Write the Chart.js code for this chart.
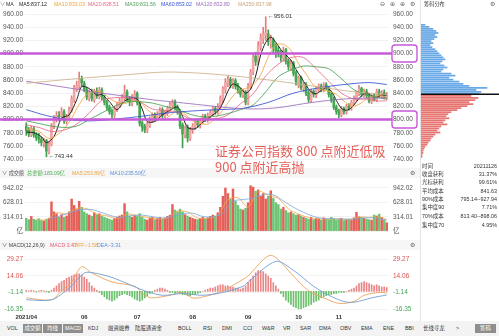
<!DOCTYPE html>
<html>
<head>
<meta charset="utf-8">
<script src="https://cdn.jsdelivr.net/npm/chart.js@4.4.0/dist/chart.umd.min.js"></script>
<style>
body{margin:0;background:#fff}
#wrap{position:relative;width:499px;height:336px;overflow:hidden;background:#fff;font-family:"Liberation Sans","Noto Sans CJK SC",sans-serif}
canvas{position:absolute}
.t{position:absolute;white-space:nowrap;font-size:5.2px;line-height:8px;color:#333}
.ic{position:absolute;font-family:"DejaVu Sans";font-size:6px;line-height:8px;color:#666}
.band{position:absolute;left:0;width:420px;height:10px;background:#f6f6f6}
.tab{position:absolute;top:324px;font-size:5.4px;line-height:9px;color:#333;white-space:nowrap;font-family:"Liberation Sans","Noto Sans CJK SC"}
.hl{background:#8e8e8e;color:#fff;text-align:center}
.row{position:absolute;left:422px;width:75px;font-size:5.4px;line-height:8px;color:#333;font-family:"Liberation Sans","Noto Sans CJK SC"}
.row b{font-weight:normal;float:right}
#note{position:absolute;left:215px;top:143px;font-family:"Noto Sans CJK SC";font-size:13px;line-height:16px;color:#e5605a;white-space:nowrap;z-index:5}
</style>
</head>
<body>
<div id="wrap">

<div class="band" style="top:168px"></div>
<div class="band" style="top:240px"></div>

<canvas id="main" width="420" height="168" style="left:0;top:0"></canvas>
<canvas id="chip" width="79" height="168" style="left:420px;top:0"></canvas>
<canvas id="vol" width="420" height="64" style="left:0;top:176px"></canvas>
<canvas id="macd" width="420" height="76" style="left:0;top:246px"></canvas>

<div style="position:absolute;left:420px;top:0;width:1px;height:321px;background:#e4e4e4"></div>

<!-- price header -->
<span class="t" style="left:0;top:0;color:#777">∨</span>
<span class="t" style="left:6px;top:0">MA</span>
<span class="t" style="left:19px;top:0;color:#222">MA5:837.12</span>
<span class="t" style="left:54px;top:0;color:#eea53f">MA10:833.03</span>
<span class="t" style="left:88px;top:0;color:#e46a86">MA20:828.51</span>
<span class="t" style="left:125px;top:0;color:#4a9e52">MA30:831.56</span>
<span class="t" style="left:161px;top:0;color:#3452d1">MA60:853.02</span>
<span class="t" style="left:196px;top:0;color:#9a6cbc">MA120:832.80</span>
<span class="t" style="left:238px;top:0;color:#c9a57a">MA250:837.98</span>
<span class="ic" style="left:380px;top:0">⊖</span>
<span class="ic" style="left:390px;top:0">⊕</span>
<span class="ic" style="left:400px;top:0">⊕</span>
<span class="ic" style="left:410px;top:0">⚙</span>
<span class="t" style="left:424px;top:0">筹码分布</span>
<span class="ic" style="left:490px;top:0">⚙</span>

<!-- volume header -->
<span class="t" style="left:2px;top:169px;color:#555">∨ 成交额</span>
<span class="t" style="left:27px;top:169px;color:#4caf50">总金额:183.09亿</span>
<span class="t" style="left:72px;top:169px;color:#eea53f">MA5:253.89亿</span>
<span class="t" style="left:110px;top:169px;color:#5a8fd8">MA10:235.50亿</span>
<span class="ic" style="left:410px;top:169px">⚙</span>

<!-- macd header -->
<span class="t" style="left:2px;top:241px;color:#444">∨ MACD(12,26,9)</span>
<span class="t" style="left:50px;top:241px;color:#e0607a">MACD:3.47</span>
<span class="t" style="left:73px;top:241px;color:#eea53f">DIFF:-1.58</span>
<span class="t" style="left:97px;top:241px;color:#5a8fd8">DEA:-3.31</span>
<span class="ic" style="left:410px;top:241px">⚙</span>

<!-- chip info -->
<div class="row" style="top:162px">时间<b>20211126</b></div>
<div class="row" style="top:170px">收盘获利<b>31.37%</b></div>
<div class="row" style="top:178px">光标获利<b>99.61%</b></div>
<div class="row" style="top:187px">平均成本<b>841.63</b></div>
<div class="row" style="top:195px">90%成本<b>795.14--927.94</b></div>
<div class="row" style="top:203px">集中度90<b>7.71%</b></div>
<div class="row" style="top:212px">70%成本<b>813.40--898.06</b></div>
<div class="row" style="top:221px">集中度70<b>4.95%</b></div>

<!-- tab bar -->
<div style="position:absolute;left:0;top:321px;width:499px;height:15px;background:#f3f3f3"></div>
<span class="tab" style="left:7px">VOL</span>
<span class="tab hl" style="left:23px;width:19px">成交额</span>
<span class="tab hl" style="left:43px;width:19px">均线</span>
<span class="tab hl" style="left:63px;width:20px">MACD</span>
<span class="tab" style="left:88px">KDJ</span>
<span class="tab" style="left:108px">融资融券</span>
<span class="tab" style="left:135px">陆股通资金</span>
<span class="tab" style="left:178px">BOLL</span>
<span class="tab" style="left:203px">RSI</span>
<span class="tab" style="left:222px">DMI</span>
<span class="tab" style="left:243px">CCI</span>
<span class="tab" style="left:262px">W&amp;R</span>
<span class="tab" style="left:283px">VR</span>
<span class="tab" style="left:300px">SAR</span>
<span class="tab" style="left:319px">DMA</span>
<span class="tab" style="left:340px">OBV</span>
<span class="tab" style="left:361px">EMA</span>
<span class="tab" style="left:383px">ENE</span>
<span class="tab" style="left:405px">BBI</span>
<span class="tab" style="left:423px">长线寻龙</span>
<span class="tab" style="left:456px">&gt;</span>
<span class="tab hl" style="left:475px;width:21px">筹码</span>

<div id="note">证券公司指数 800 点附近低吸<br>900 点附近高抛</div>
</div>

<script>
/* =====================================================
DATA
===================================================== */

const monthStarts=[0,23,44,66,88,108,124]
const monthLabels=["2021/04","06","07","08","09","10","11"]

const opens=[
790,784,777,786,777,774,770,764,768,750,
762,790,800,806,805,812,797,803,814,830,
846,850,862,855,846,832,841,830,843,835,
845,834,826,819,813,806,815,821,827,832,
842,831,825,833,840,826,795,790,783,791,
799,807,801,807,815,805,809,815,821,827,
819,812,792,777,788,771,783,789,797,791,
797,805,799,805,809,817,811,819,830,845,
854,861,851,859,851,845,837,842,825,849,
872,896,886,910,922,928,930,915,921,912,
905,901,893,906,889,878,886,871,852,864,
847,853,841,829,843,837,845,851,845,853,
848,839,831,819,813,807,817,811,821,817,
825,831,839,847,837,843,837,827,836,829,
843,835,841,833]

const closes=[
783,778,786,776,772,770,765,768,752,762,
790,800,806,804,812,798,804,815,832,848,
852,860,856,846,834,840,832,842,836,844,
834,826,818,812,808,816,822,828,834,840,
830,826,834,838,826,794,788,784,792,800,
806,802,808,814,806,810,816,822,826,818,
812,790,778,786,772,784,790,796,792,798,
804,800,806,810,816,812,820,832,846,856,
860,852,858,850,844,838,842,826,850,872,
894,888,912,925,930,932,918,920,910,904,
900,894,904,888,880,884,870,858,862,848,
852,840,830,842,838,846,850,846,852,848,
838,830,818,812,808,816,812,820,818,826,
832,840,846,838,842,836,828,835,830,842,
836,840,834,838]

const highs=[
795,788,790,789,780,779,774,772,770,766,
794,806,812,812,818,815,808,819,836,852,
858,872,866,858,849,845,846,846,848,849,
848,837,829,822,816,820,826,832,838,852,
845,835,838,844,842,828,798,793,796,804,
810,810,812,818,818,814,820,826,830,830,
822,815,795,790,792,788,794,800,800,802,
808,808,810,814,820,820,824,836,850,862,
866,864,862,862,855,848,846,844,855,876,
900,902,918,930,940,956.01,936,928,924,915,
910,905,910,908,892,890,888,874,866,866,
856,856,844,846,845,850,854,854,856,856,
850,842,834,822,816,820,819,823,824,829,
836,843,852,849,846,846,840,838,839,846,
846,844,845,841]

const lows=[
776,774,774,773,768,764,760,758,743.44,748,
760,786,796,798,803,794,793,800,811,826,
842,846,850,842,830,828,828,826,832,831,
830,822,814,808,802,803,812,818,824,829,
827,821,821,829,822,790,782,780,780,788,
796,798,798,804,802,802,806,812,817,814,
808,786,757,772,766,768,779,785,788,787,
794,797,796,802,806,808,808,816,826,840,
850,848,847,846,840,834,833,822,822,846,
868,882,883,905,915,920,912,908,900,894,
895,888,889,884,875,874,866,852,848,845,
842,836,826,826,834,833,842,842,842,845,
834,826,815,808,803,804,808,808,814,814,
822,828,836,835,834,833,825,824,828,827,
833,832,831,830]

// moving averages as [day, value]
const ma5=[[0,781],[3,780],[6,774],[8,765],[11,774],[14,802],[17,807],[20,830],[22,850],[25,847],[28,837],[30,838],[33,827],[36,815],[39,828],[42,833],[44,831],[46,816],[48,797],[51,797],[54,807],[57,814],[60,819],[62,805],[64,788],[67,786],[70,796],[73,804],[76,813],[78,825],[80,843],[82,854],[85,848],[87,840],[89,846],[91,866],[93,898],[95,917],[97,925],[99,917],[101,906],[103,898],[105,890],[107,876],[109,864],[111,852],[113,842],[115,839],[117,844],[119,848],[121,843],[123,829],[125,817],[127,814],[129,818],[131,827],[133,836],[135,840],[137,836],[139,834],[141,837],[143,837.12]]
const ma10=[[0,786],[5,782],[9,771],[12,776],[15,786],[18,802],[21,823],[24,838],[27,842],[30,842],[33,832],[36,826],[39,824],[42,828],[45,827],[48,815],[51,806],[54,799],[57,806],[60,813],[63,808],[66,798],[69,794],[72,793],[75,802],[78,814],[81,831],[84,843],[87,847],[90,853],[93,868],[96,895],[99,913],[102,914],[105,905],[108,885],[111,869],[114,852],[117,845],[120,843],[123,838],[126,828],[129,820],[132,823],[135,831],[138,835],[141,836],[143,833.03]]
const ma20=[[0,792],[5,788],[10,782],[15,784],[20,793],[25,810],[30,829],[35,833],[40,833],[45,827],[50,816],[55,814],[60,811],[65,801],[70,801],[75,801],[80,807],[85,824],[90,839],[95,866],[100,884],[105,894],[110,894],[115,877],[120,858],[125,840],[130,831],[135,831],[140,828],[143,828.51]]
const ma30=[[0,798],[5,794],[10,790],[15,788],[20,790],[25,800],[30,810],[35,820],[40,827],[45,827],[50,825],[55,820],[60,815],[65,808],[70,804],[75,805],[80,809],[85,815],[90,822],[95,842],[100,865],[105,875],[110,881],[115,880],[120,877],[125,862],[130,845],[135,838],[140,833],[143,831.56]]
const ma60=[[0,815],[8,806],[16,800],[26,798],[36,801],[46,805],[56,810],[66,813],[76,815],[86,817],[96,826],[106,840],[116,848],[126,853],[136,856],[143,853.02]]
const ma120=[[0,858],[10,852],[20,846],[30,840],[40,835],[50,830],[60,826],[70,822],[80,818],[90,816],[100,818],[110,824],[120,829],[130,832],[143,832.8]]
const ma250=[[0,855],[20,862],[40,868],[55,872],[70,870],[85,865],[100,858],[115,850],[130,842],[143,837.98]]

const levels=[900,800]

// turnover, 亿
const volumes=[
280,250,320,260,240,270,230,220,260,280,
640,420,380,300,360,300,330,420,700,560,
470,650,520,420,380,350,320,400,360,380,
330,300,280,260,240,280,300,330,350,600,
420,330,300,340,320,380,300,260,240,280,
300,250,270,300,260,280,320,350,580,460,
420,480,420,360,330,300,280,260,250,280,
300,270,290,320,350,330,400,520,760,940,
820,700,920,650,560,480,460,500,620,990,
960,870,900,760,820,700,760,880,720,620,
580,480,520,450,400,420,380,350,360,330,
300,280,260,300,250,280,270,240,290,260,
250,300,270,240,260,280,230,250,260,240,
290,410,310,300,280,260,250,240,350,330,
370,300,240,183.09]
const volMa5=[[4,262],[8,244],[12,398],[16,378],[20,496],[24,488],[28,370],[32,334],[36,272],[40,370],[44,342],[48,300],[52,272],[56,282],[60,438],[64,418],[68,284],[72,282],[76,338],[80,688],[84,730],[88,524],[92,868],[96,788],[100,712],[104,486],[108,372],[112,296],[116,268],[120,262],[124,264],[128,254],[132,308],[136,300],[140,308],[143,253.89]]
const volMa10=[[9,263],[14,339],[18,415],[22,470],[26,470],[30,405],[34,330],[38,298],[42,340],[46,350],[50,315],[54,285],[58,320],[62,380],[66,390],[70,320],[74,310],[78,390],[82,650],[86,690],[90,720],[94,800],[98,790],[102,660],[106,520],[110,410],[114,320],[118,275],[122,270],[126,262],[130,262],[134,285],[138,290],[143,235.5]]
const volTicks=[0,314.01,628.01,942.02]

const diffLine=[[0,-6],[10,-7.7],[14,0.5],[18,8.6],[22,22.5],[26,16.8],[34,8.6],[43,4.6],[47,-3.6],[50,-6],[57,-3.6],[62,-1],[66,-6],[70,-5.2],[78,0.5],[86,11],[88,14],[94,29],[97,33],[100,29],[106,14],[112,0.5],[118,-6],[124,-11],[130,-9.3],[134,-3.6],[140,-1],[143,-1.58]]
const deaLine=[[0,-7.7],[10,-7.7],[17,3],[23,16.8],[27,16.8],[34,12.7],[41,6.2],[47,0.5],[54,-3.6],[62,-2],[70,-3.6],[78,-1],[86,4.6],[88,8.6],[99,27.4],[106,19.2],[114,4.6],[120,-3.6],[126,-9.3],[130,-10],[137,-6],[143,-3.31]]
const macdHist=[
1,0.5,1,0.5,-0.5,0.5,1,0.5,-0.5,-1,
1,3,5,7,9,10,12,13,14,15,16,16,15,13,11,8,5,3,
1,-1,-3,-5,-7,-8,-9,-8,-6,-4,-3,-2,-3,-4,-5,-7,-8,-9,-8,-6,-4,-2,-1,
1,2,3,3,2,1,
-1,-1,-2,-1,
-2,-3,-3,-4,
-4,-3,-3,-2,-1,0,
1,2,3,3,4,5,6,6,5,5,
4,4,3,3,2,3,
5,8,11,14,17,19,19,18,16,14,12,
8,5,2,
-2,-5,-8,-10,-12,-14,-15,-16,-16,-15,-14,-13,-12,-10,-9,-8,-6,-5,-4,-3,
-3,-2,-2,-1,-1,-1,0,1,
2,3,5,7,8,9,8,7,6,5,6,5,4,4,3.47]
const macdTicks=[29.27,14.06,-1.14,-16.35]

// chip distribution: price level and bar size
const chipPrices=[944,941,938,935,932,929,926,923,920,917,914,911,908,905,902,899,896,893,890,887,884,881,878,875,872,869,866,863,860,857,854,851,848,845,842,839,836,833,830,827,824,821,818,815,812,809,806,803,800,797,794,791,788,785,782,779,776,773,770,767,764,761,758,755,752,749]
const chipSizes=[4,8,12,15,17,14,16,13,10,12,9,11,14,16,18,20,22,24,21,19,23,26,22,20,30,34,28,32,38,42,48,66,55,60,58,50,57,54,48,52,46,40,36,30,27,25,28,24,22,26,20,18,16,19,14,12,10,9,7,6,4,3,2,2,1,1]
const avgCost=841.63


/* =====================================================
HELPERS
===================================================== */

Chart.defaults.font.family="'Liberation Sans','Noto Sans CJK SC',sans-serif"
Chart.defaults.animation=false

const N=closes.length
const days=Array.from({length:N},(_,i)=>i)
const up=closes.map((c,i)=>c>=opens[i])

function sparse(pairs){
const arr=new Array(N).fill(null)
pairs.forEach(p=>{arr[p[0]]=p[1]})
return arr
}

function sideAxis(pos,min,max,tickList,fmt,color){
const left=pos==="left"
const axis={
type:"linear",
position:pos,
min:min,
max:max,
offset:false,
border:{display:false},
grid:{display:left,color:"#f2f2f2",drawTicks:false},
ticks:{font:{size:6.5},color:color||"#555",padding:left?2:5,callback:fmt},
afterFit:s=>{s.width=left?25:32}
}
if(tickList) axis.afterBuildTicks=s=>{s.ticks=tickList.map(v=>({value:v}))}
else axis.ticks.stepSize=20
return axis
}

function maLine(pairs,color,width){
return {type:"line",data:sparse(pairs),borderColor:color,borderWidth:width||0.85,pointRadius:0,spanGaps:true,tension:0.3,order:0}
}

const baseOptions={
responsive:false,
plugins:{legend:{display:false},tooltip:{enabled:false}}
}


/* =====================================================
PRICE CHART
===================================================== */

const levelPlugin={
id:"levels",
afterDatasetsDraw(chart){
const ctx=chart.ctx
const x=chart.scales.x
const y=chart.scales.y
const a=chart.chartArea
ctx.save()
levels.forEach(v=>{
const py=y.getPixelForValue(v)
ctx.strokeStyle="#c65ad8"
ctx.lineWidth=2.5
ctx.beginPath()
ctx.moveTo(0,py)
ctx.lineTo(a.right+4,py)
ctx.stroke()
ctx.lineWidth=1.4
ctx.beginPath()
ctx.roundRect(a.right+4,py-8.5,25,17,3)
ctx.stroke()
})
const hi=highs.indexOf(Math.max(...highs))
const lo=lows.indexOf(Math.min(...lows))
ctx.fillStyle="#333"
ctx.font="6px 'Liberation Sans','DejaVu Sans'"
ctx.textBaseline="middle"
ctx.fillText("←"+highs[hi].toFixed(2),x.getPixelForValue(hi)+2,y.getPixelForValue(highs[hi]))
ctx.fillText("←"+lows[lo].toFixed(2),x.getPixelForValue(lo)+2,y.getPixelForValue(lows[lo]))
ctx.restore()
}
}

new Chart(document.getElementById("main"),{
type:"bar",
data:{
labels:days,
datasets:[
maLine(ma250,"#cdb08a"),
maLine(ma120,"#9a6cbc"),
maLine(ma60,"#3452d1"),
maLine(ma30,"#4a9e52"),
maLine(ma20,"#e46a86"),
maLine(ma10,"#eea53f"),
maLine(ma5,"#222",1),
{data:lows.map((l,i)=>[l,highs[i]]),backgroundColor:up.map(u=>u?"#e87c7c":"#3f9f4c"),barThickness:1,grouped:false,order:3},
{data:opens.map((o,i)=>[o,closes[i]]),backgroundColor:up.map(u=>u?"#f0a6a6":"#43a851"),barThickness:2,minBarLength:1,grouped:false,order:2}
]
},
options:Object.assign({},baseOptions,{
layout:{padding:{top:14,bottom:5,left:0,right:0}},
scales:{
x:{display:false},
y:sideAxis("left",740,960,null,v=>Number(v).toFixed(2)),
y2:sideAxis("right",740,960,null,v=>Number(v).toFixed(2))
}
}),
plugins:[levelPlugin]
})


/* =====================================================
CHIP DISTRIBUTION
===================================================== */

const avgPlugin={
id:"avgCost",
afterDatasetsDraw(chart){
const ctx=chart.ctx
const py=chart.scales.y.getPixelForValue(avgCost)
ctx.save()
ctx.strokeStyle="#111"
ctx.lineWidth=1.5
ctx.beginPath()
ctx.moveTo(chart.chartArea.left,py)
ctx.lineTo(chart.width,py)
ctx.stroke()
ctx.restore()
}
}

new Chart(document.getElementById("chip"),{
type:"bar",
data:{
datasets:[{
data:chipPrices.map((p,i)=>({x:chipSizes[i],y:p})),
backgroundColor:chipPrices.map(p=>p>avgCost?"#69a8e6":"#e67470"),
barThickness:1.1
}]
},
options:Object.assign({},baseOptions,{
indexAxis:"y",
layout:{padding:{top:14,bottom:5,left:1,right:0}},
scales:{
x:{type:"linear",display:false,min:0,max:78,offset:false},
y:{type:"linear",display:false,min:740,max:960,offset:false}
}
}),
plugins:[avgPlugin]
})


/* =====================================================
TURNOVER
===================================================== */

new Chart(document.getElementById("vol"),{
type:"bar",
data:{
labels:days,
datasets:[
maLine(volMa10,"#7aa7dc",0.8),
maLine(volMa5,"#eea94a",0.8),
{data:volumes,backgroundColor:up.map(u=>u?"#e35f58":"#6cc474"),barThickness:1.8,order:1}
]
},
options:Object.assign({},baseOptions,{
layout:{padding:{top:2,bottom:2,left:0,right:0}},
scales:{
x:{display:false},
y:sideAxis("left",0,1009,volTicks,v=>v===0?"亿":Number(v).toFixed(2)),
y2:sideAxis("right",0,1009,volTicks,v=>v===0?"亿":Number(v).toFixed(2))
}
})
})


/* =====================================================
MACD
===================================================== */

const datePlugin={
id:"dates",
afterDraw(chart){
const ctx=chart.ctx
const x=chart.scales.x
ctx.save()
ctx.fillStyle="#333"
ctx.font="bold 6px 'Liberation Sans'"
ctx.textAlign="center"
ctx.textBaseline="middle"
monthStarts.forEach((d,k)=>{
ctx.fillText(monthLabels[k],x.getPixelForValue(d),chart.chartArea.bottom+6)
})
ctx.restore()
}
}

const macdColor=c=>c.tick&&c.tick.value>0?"#d9534f":"#49a55a"

new Chart(document.getElementById("macd"),{
type:"bar",
data:{
labels:days,
datasets:[
maLine(deaLine,"#6f9fd6",0.9),
maLine(diffLine,"#eba35a",0.9),
{data:macdHist,backgroundColor:macdHist.map(v=>v>=0?"#e98585":"#6cc06c"),barThickness:1,order:1}
]
},
options:Object.assign({},baseOptions,{
layout:{padding:{top:2,bottom:11,left:0,right:0}},
scales:{
x:{display:false},
y:sideAxis("left",-17.98,33.34,macdTicks,v=>Number(v).toFixed(2),macdColor),
y2:sideAxis("right",-17.98,33.34,macdTicks,v=>Number(v).toFixed(2),macdColor)
}
}),
plugins:[datePlugin]
})
</script>
</body>
</html>
